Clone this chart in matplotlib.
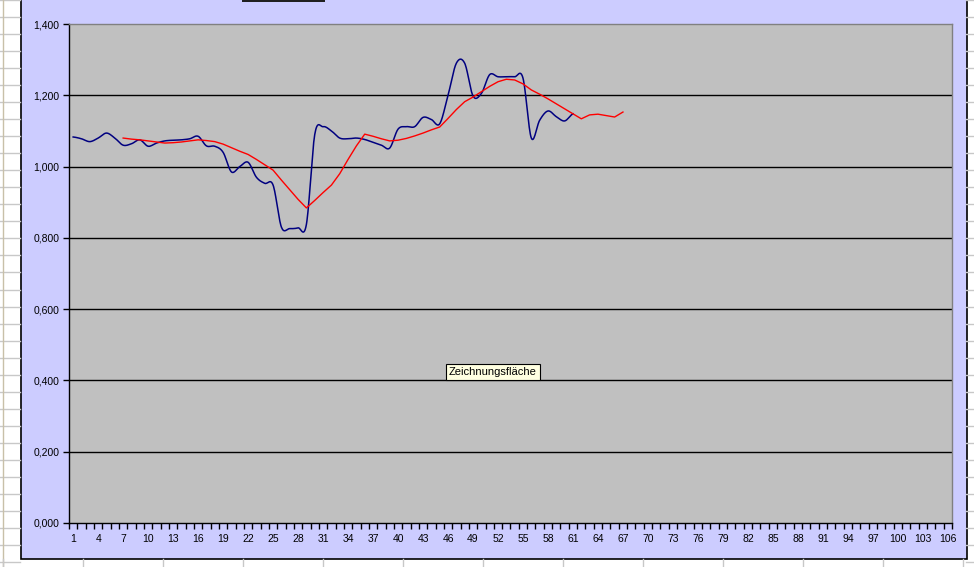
import numpy as np
import matplotlib
matplotlib.use("Agg")
import matplotlib.pyplot as plt
from matplotlib.patches import Rectangle
from matplotlib.ticker import FixedLocator, FuncFormatter

# ---- data ----
categories = list(range(1, 107))
tick_labels = [str(c) for c in range(1, 107, 3)]

blue_start = 1
blue_values = [1.083, 1.078, 1.070, 1.080, 1.094, 1.080, 1.060, 1.064, 1.075, 1.057,
               1.066, 1.072, 1.074, 1.075, 1.078, 1.085, 1.058, 1.057, 1.040, 0.985,
               1.000, 1.012, 0.970, 0.953, 0.948, 0.830, 0.826, 0.828, 0.838, 1.090,
               1.112, 1.100, 1.080, 1.078, 1.080, 1.076, 1.068, 1.060, 1.052, 1.105,
               1.112, 1.112, 1.138, 1.132, 1.120, 1.200, 1.290, 1.290, 1.198, 1.205,
               1.258, 1.252, 1.252, 1.252, 1.248, 1.080, 1.130, 1.156, 1.140, 1.128,
               1.148]

red_start = 7
red_values = [1.080, 1.077, 1.075, 1.072, 1.069, 1.066, 1.067, 1.069, 1.072, 1.075,
              1.073, 1.070, 1.063, 1.053, 1.043, 1.034, 1.020, 1.005, 0.990, 0.962,
              0.935, 0.908, 0.884, 0.905, 0.927, 0.948, 0.980, 1.020, 1.058, 1.091,
              1.085, 1.078, 1.072, 1.074, 1.079, 1.086, 1.094, 1.103, 1.111, 1.135,
              1.160, 1.182, 1.195, 1.210, 1.225, 1.238, 1.245, 1.243, 1.232, 1.215,
              1.203, 1.190, 1.176, 1.162, 1.148, 1.134, 1.145, 1.147, 1.143, 1.139,
              1.153]

y_ticks = [0.0, 0.2, 0.4, 0.6, 0.8, 1.0, 1.2, 1.4]

# ---- helpers ----
def smooth(xs, ys, n=16):
    """Catmull-Rom rendering (like Excel's smoothed line) through the data points."""
    xs = np.asarray(xs, float)
    ys = np.asarray(ys, float)
    px = np.concatenate([[2 * xs[0] - xs[1]], xs, [2 * xs[-1] - xs[-2]]])
    py = np.concatenate([[ys[0]], ys, [ys[-1]]])
    ox, oy = [], []
    for i in range(1, len(px) - 2):
        t = np.linspace(0, 1, n, endpoint=False)
        for arr, out in ((px, ox), (py, oy)):
            p0, p1, p2, p3 = arr[i - 1], arr[i], arr[i + 1], arr[i + 2]
            out.extend(0.5 * ((2 * p1) + (-p0 + p2) * t +
                              (2 * p0 - 5 * p1 + 4 * p2 - p3) * t ** 2 +
                              (-p0 + 3 * p1 - 3 * p2 + p3) * t ** 3))
    ox.append(xs[-1]); oy.append(ys[-1])
    return np.array(ox), np.array(oy)

W, H = 974, 567
fig = plt.figure(figsize=(W / 100, H / 100), dpi=100)
fig.patch.set_facecolor("white")
plt.rcParams["font.family"] = ["Liberation Sans", "DejaVu Sans"]

def px_rect(x0, y0, x1, y1):
    return [x0 / W, 1 - y1 / H, (x1 - x0) / W, (y1 - y0) / H]

# spreadsheet background grid
bg = fig.add_axes([0, 0, 1, 1])
bg.set_xlim(0, W); bg.set_ylim(H, 0); bg.axis("off")
for y in np.arange(0, H, 17.03):
    bg.plot([0, 20], [y, y], color="#c8c8c8", lw=1)
    bg.plot([966, W], [y, y], color="#c8c8c8", lw=1)
bg.plot([3, 3], [0, H], color="#c8c0a8", lw=1)
for x in np.arange(3, W, 80):
    bg.plot([x, x], [559, H], color="#c8c8c8", lw=1)

# chart area
bg.add_patch(Rectangle((20.5, -1), 946, 560, facecolor="#ccccff",
                       edgecolor="black", lw=1.2))
bg.add_patch(Rectangle((242, 0), 83, 2, facecolor="#202020", edgecolor="none"))

# plot area
ax = fig.add_axes(px_rect(69, 24, 952, 523))
ax.set_facecolor("#c0c0c0")
ax.set_xlim(0.5, 106.5)
ax.set_ylim(0, 1.4)

for v in y_ticks[1:-1]:
    ax.axhline(v, color="black", lw=1, zorder=1)

bx = np.arange(blue_start, blue_start + len(blue_values))
sx, sy = smooth(bx, blue_values)
ax.plot(sx, sy, color="#000080", lw=1.1, zorder=3)

rx = np.arange(red_start, red_start + len(red_values))
ax.plot(rx, red_values, color="#ff0000", lw=1.0, zorder=4)

ax.yaxis.set_major_locator(FixedLocator(y_ticks))
ax.yaxis.set_major_formatter(FuncFormatter(lambda v, p: f"{v:.3f}".replace(".", ",")))
ax.tick_params(axis="y", direction="out", length=4, width=1, pad=3,
               labelsize=7.5, colors="black")

label_pos = list(range(1, 107, 3))
ax.xaxis.set_major_locator(FixedLocator(label_pos))
ax.set_xticklabels(tick_labels)
ax.xaxis.set_minor_locator(FixedLocator(np.arange(0.5, 107, 1.0)))
ax.tick_params(axis="x", which="major", length=0, pad=8, labelsize=7.5)
ax.tick_params(axis="x", which="minor", direction="out", length=4, width=1, color="black")

ax.spines["left"].set_color("black")
ax.spines["bottom"].set_color("black")
ax.spines["top"].set_color("#808080")
ax.spines["right"].set_color("#808080")
for s in ax.spines.values():
    s.set_linewidth(1)

# tooltip
fig.text(449 / W, 1 - 372 / H, "Zeichnungsfläche", fontsize=8, va="center", ha="left",
         bbox=dict(boxstyle="square,pad=0.3", facecolor="#ffffe1",
                   edgecolor="black", lw=0.8), zorder=10)

fig.savefig("out.png", dpi=100)
